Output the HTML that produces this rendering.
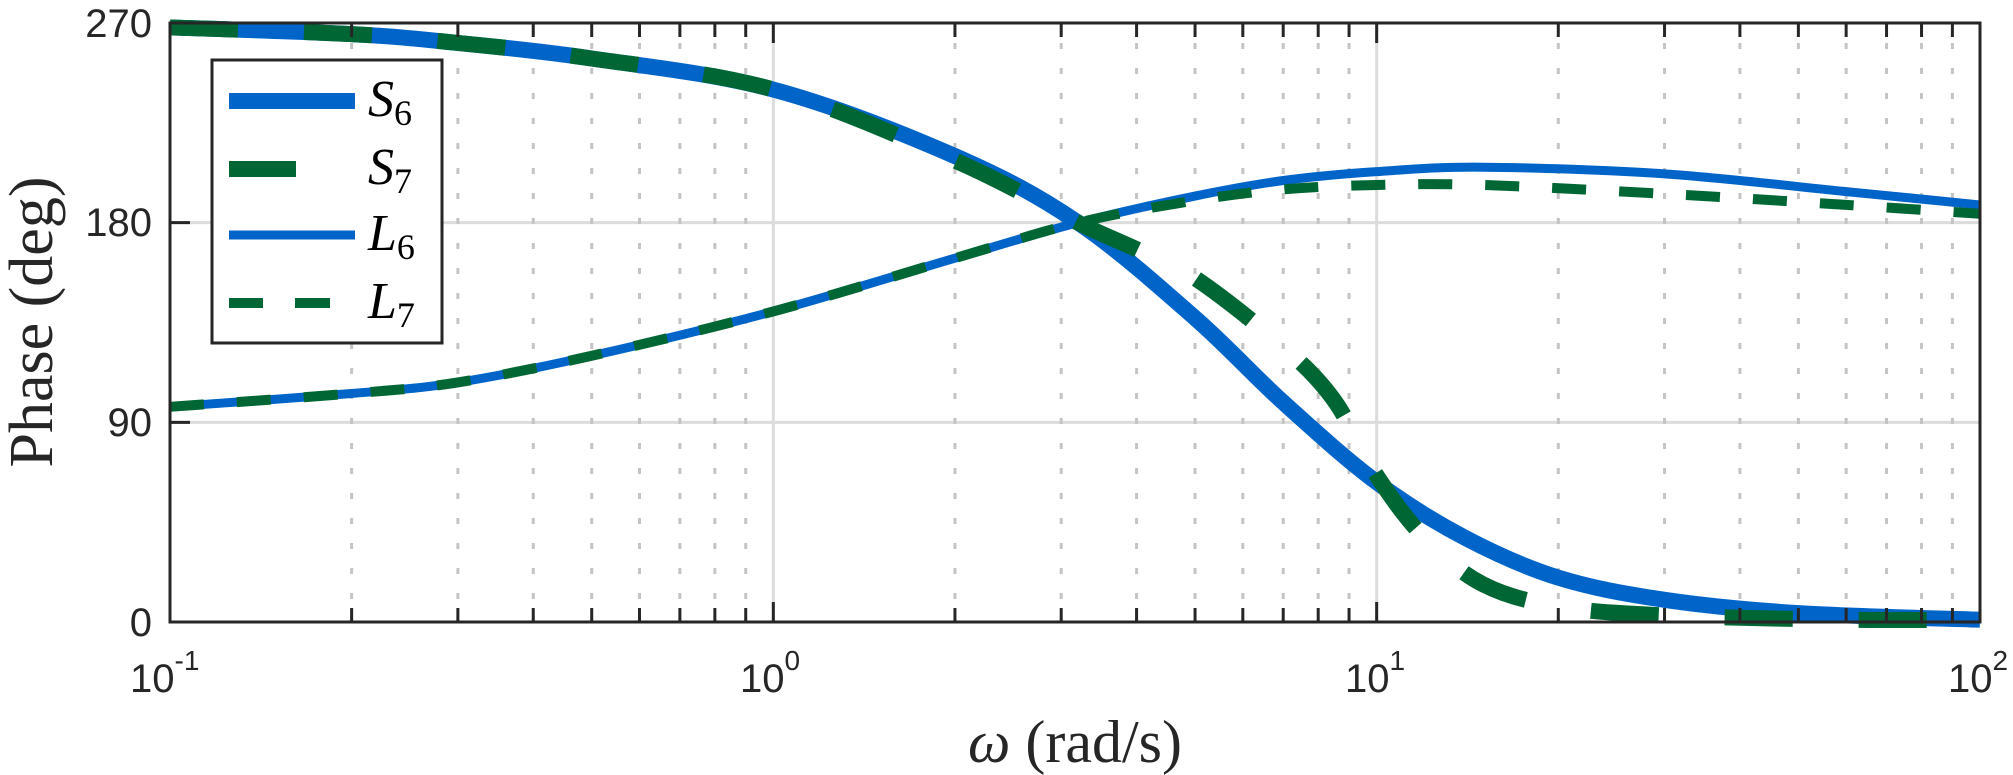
<!DOCTYPE html>
<html><head><meta charset="utf-8"><style>
html,body{margin:0;padding:0;background:#fff;}
svg{display:block;}
</style></head><body>
<svg id="s" width="2013" height="775" viewBox="0 0 2013 775" xmlns="http://www.w3.org/2000/svg">
<rect width="2013" height="775" fill="#fff"/>
<g id="grid"></g>
<g id="curves"></g>
<g id="axes"></g>
<g font-family="Liberation Sans, sans-serif" font-size="40" fill="#262626">
<text x="152" y="37" text-anchor="end">270</text>
<text x="152" y="236" text-anchor="end">180</text>
<text x="152" y="436" text-anchor="end">90</text>
<text x="152" y="636" text-anchor="end">0</text>
<text x="130" y="692">10<tspan font-size="28" dy="-22">-1</tspan></text>
<text x="740" y="692">10<tspan font-size="28" dy="-22">0</tspan></text>
<text x="1345" y="692">10<tspan font-size="28" dy="-22">1</tspan></text>
<text x="1948" y="692">10<tspan font-size="28" dy="-22">2</tspan></text>
</g>
<text transform="translate(52,322) rotate(-90)" text-anchor="middle" font-family="Liberation Serif, serif" font-size="62" fill="#262626">Phase (deg)</text>
<text x="1075" y="762" text-anchor="middle" font-family="Liberation Serif, serif" font-size="60" fill="#262626"><tspan font-style="italic">ω</tspan> (rad/s)</text>
<g id="legend">
<rect x="212" y="60" width="230" height="283" fill="#fff" stroke="#262626" stroke-width="3"/>
<line x1="229" y1="101" x2="355" y2="101" stroke="#0064C8" stroke-width="16"/>
<line x1="229" y1="169" x2="296" y2="169" stroke="#006633" stroke-width="16"/>
<line x1="229" y1="235" x2="355" y2="235" stroke="#0064C8" stroke-width="9"/>
<line x1="229" y1="303" x2="263" y2="303" stroke="#006633" stroke-width="10"/>
<line x1="295" y1="303" x2="330" y2="303" stroke="#006633" stroke-width="10"/>
<g font-family="Liberation Serif, serif" font-size="52" fill="#000">
<text x="368" y="116"><tspan font-style="italic">S</tspan><tspan font-size="36" dy="9">6</tspan></text>
<text x="368" y="184"><tspan font-style="italic">S</tspan><tspan font-size="36" dy="9">7</tspan></text>
<text x="368" y="250"><tspan font-style="italic">L</tspan><tspan font-size="36" dy="9">6</tspan></text>
<text x="368" y="318"><tspan font-style="italic">L</tspan><tspan font-size="36" dy="9">7</tspan></text>
</g>
</g>
</svg>
<script>
var X0=170,X1=1980,Y0=23,Y1=622;
function px(w){return X0+(Math.log10(w)+1)/3*(X1-X0);}
function py(p){return Y1-p/270*(Y1-Y0);}
var NS="http://www.w3.org/2000/svg";
function el(tag,attrs,parent){var e=document.createElementNS(NS,tag);for(var k in attrs)e.setAttribute(k,attrs[k]);parent.appendChild(e);return e;}
var grid=document.getElementById('grid'),axes=document.getElementById('axes'),cv=document.getElementById('curves');
[90,180].forEach(function(p){el('line',{x1:X0,x2:X1,y1:py(p),y2:py(p),stroke:'#dcdcdc','stroke-width':3},grid);});
[1,10].forEach(function(w){el('line',{x1:px(w),x2:px(w),y1:Y0,y2:Y1,stroke:'#dcdcdc','stroke-width':3},grid);});
for(var d=-1;d<2;d++){for(var m=2;m<10;m++){var x=px(m*Math.pow(10,d));
el('line',{x1:x,x2:x,y1:Y0+20,y2:Y1,stroke:'#c4c4c4','stroke-width':3,'stroke-dasharray':'6 19'},grid);
el('line',{x1:x,x2:x,y1:Y1,y2:Y1-14,stroke:'#262626','stroke-width':3},axes);
el('line',{x1:x,x2:x,y1:Y0,y2:Y0+14,stroke:'#262626','stroke-width':3},axes);}}
[0.1,1,10,100].forEach(function(w){var x=px(w);
el('line',{x1:x,x2:x,y1:Y1,y2:Y1-20,stroke:'#262626','stroke-width':3},axes);
el('line',{x1:x,x2:x,y1:Y0,y2:Y0+20,stroke:'#262626','stroke-width':3},axes);});
[0,90,180,270].forEach(function(p){el('line',{x1:X0,x2:X0+20,y1:py(p),y2:py(p),stroke:'#262626','stroke-width':3},axes);});
el('rect',{x:X0,y:Y0,width:X1-X0,height:Y1-Y0,fill:'none',stroke:'#262626','stroke-width':3},axes);
function path(pts){
 var P=pts.map(function(a){return [px(a[0]),py(a[1])];});
 var d='M'+P[0][0]+' '+P[0][1];
 for(var i=0;i<P.length-1;i++){
  var p0=P[Math.max(i-1,0)],p1=P[i],p2=P[i+1],p3=P[Math.min(i+2,P.length-1)];
  var c1=[p1[0]+(p2[0]-p0[0])/6,p1[1]+(p2[1]-p0[1])/6];
  var c2=[p2[0]-(p3[0]-p1[0])/6,p2[1]-(p3[1]-p1[1])/6];
  d+=' C'+c1[0]+' '+c1[1]+' '+c2[0]+' '+c2[1]+' '+p2[0]+' '+p2[1];}
 return d;}
var S6=[[0.1,268],[0.2,265],[0.3,261],[0.5,254],[1,240],[2,210],[3.2,180],[5,137],[7,99],[10,63],[14,38],[20,20],[30,10],[50,4],[100,1]];
var S7=[[0.1,268],[0.2,265],[0.3,261],[0.5,254],[1,240],[2,208],[3.2,180],[4,168],[5,155],[7,124],[8.5,100],[10,66],[12,38],[15,17],[20,7],[30,3],[60,1],[100,1]];
var L6=[[0.1,97],[0.2,103],[0.3,108],[0.5,120],[1,140],[2,164],[3.2,180],[5,192],[7,199],[10,203],[15,205],[30,202],[60,194],[100,188]];
var L7=[[0.1,97],[0.2,103],[0.3,108],[0.5,120],[1,140],[2,164],[3.2,180],[5,190],[7,195],[10,197],[15,197],[30,193],[60,188],[100,184]];
el('path',{d:path(S6),fill:'none',stroke:'#0064C8','stroke-width':16},cv);
el('path',{d:path(L6),fill:'none',stroke:'#0064C8','stroke-width':9},cv);
el('path',{d:path(S7),fill:'none',stroke:'#006633','stroke-width':16,'stroke-dasharray':'68 66'},cv);
el('path',{d:path(L7),fill:'none',stroke:'#006633','stroke-width':10,'stroke-dasharray':'34 33'},cv);
</script>
</body></html>
